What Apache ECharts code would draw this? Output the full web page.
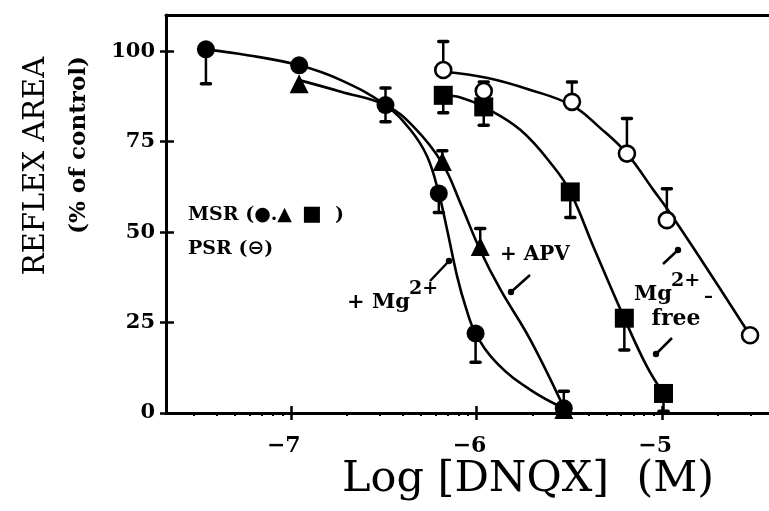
<!DOCTYPE html>
<html><head><meta charset="utf-8">
<script src="https://cdn.jsdelivr.net/npm/echarts@6/dist/echarts.min.js"></script>
<style>html,body{margin:0;padding:0;background:#fff}#c{width:769px;height:511px}</style>
</head><body><div id="c"></div>
<script>
// ---- data (x = log10 [DNQX] in M, y = reflex area % of control) ----
const xMajorTicks = [-7, -6, -5];
const xTickLabels = ['\u22127', '\u22126', '\u22125'];
const yTicks = [0, 25, 50, 75, 100];
const yTickLabels = ['0', '25', '50', '75', '100'];
const xMin = -7.672, xMax = -4.425, yMin = 0, yMax = 110;

// MSR + Mg2+ (filled circles)
const mgX  = [-7.457, -6.955, -6.49, -6.203, -6.005, -5.53];
const mgY  = [100.5, 96.1, 85.1, 60.7, 22, 1.3];
const mgLo = [91, 96.1, 80.5, 55.4, 14, 1.3];
const mgHi = [100.5, 96.1, 89.8, 60.7, 22, 1.3];
const mgCurveX = [-7.457, -7.233, -6.955, -6.73, -6.49, -6.355, -6.265, -6.203, -6.158, -6.104, -6.059, -6.005, -5.889, -5.71, -5.53];
const mgCurveY = [100.5, 98.9, 96.1, 92, 85.1, 78.2, 70.8, 60.7, 50.6, 37.7, 29.4, 22, 13.7, 6.4, 1.3];
// MSR + APV (triangles)
const apvX  = [-6.955, -6.184, -5.98, -5.53];
const apvY  = [91, 69.5, 46, 1];
const apvLo = [91, 69.5, 46, 1];
const apvHi = [91, 72.5, 51, 6];
const apvCurveX = [-6.955, -6.73, -6.49, -6.337, -6.184, -6.086, -5.98, -5.87, -5.71, -5.53];
const apvCurveY = [92, 88.8, 85.1, 79, 69, 57.9, 45, 34, 20.2, 1.5];
// MSR Mg2+-free (filled squares)
const sqX  = [-6.179, -5.961, -5.495, -5.204, -4.993];
const sqY  = [87.8, 84.6, 61.1, 26.2, 5.4];
const sqLo = [83, 79.5, 54, 17.4, 0.5];
const sqHi = [87.8, 84.6, 61.1, 26.2, 5.4];
const sqCurveX = [-6.179, -6.086, -5.961, -5.763, -5.584, -5.495, -5.37, -5.204, -5.082, -4.993];
const sqCurveY = [87.8, 87.2, 84.6, 78.2, 68, 61.1, 45.9, 26.2, 12.8, 5.4];
// PSR Mg2+-free (open circles)
const psrX  = [-6.179, -5.961, -5.486, -5.19, -4.975, -4.527];
const psrY  = [94.8, 89, 86, 71.7, 53.3, 21.5];
const psrLo = [94.8, 89, 86, 71.7, 53.3, 21.5];
const psrHi = [102.7, 91.5, 91.5, 81.4, 62, 21.5];
const psrCurveX = [-6.179, -5.94, -5.71, -5.486, -5.33, -5.19, -5.047, -4.957, -4.778, -4.527];
const psrCurveY = [94.3, 92.6, 89.3, 85, 78.6, 71.7, 61.6, 55.2, 41.4, 21.5];

// log-decade minor tick positions (2..9 x 10^n)
const minorTicks = [];
for (let n = -8; n <= -5; n++) for (let k = 2; k <= 9; k++) {
  const v = n + Math.log10(k); if (v > xMin && v < xMax) minorTicks.push(v);
}

const zip = (xs, ys) => xs.map((x, i) => [x, ys[i]]);
const errData = (xs, ys, lo, hi) => xs.map((x, i) => [x, lo[i], hi[i], ys[i]]);

const serif = 'DejaVu Serif';
const K = '#000';

function errRender(params, api) {
  const x = api.value(0), lo = api.value(1), hi = api.value(2), y = api.value(3);
  if (lo === hi) return null;
  const a = api.coord([x, lo]), b = api.coord([x, hi]);
  const ch = [{type: 'line', shape: {x1: a[0], y1: a[1], x2: b[0], y2: b[1]}, style: {stroke: K, lineWidth: 2.5}}];
  if (lo < y) ch.push({type: 'line', shape: {x1: a[0] - 4.5, y1: a[1], x2: a[0] + 4.5, y2: a[1]}, style: {stroke: K, lineWidth: 3.5, lineCap: 'round'}});
  if (hi > y) ch.push({type: 'line', shape: {x1: b[0] - 4.5, y1: b[1], x2: b[0] + 4.5, y2: b[1]}, style: {stroke: K, lineWidth: 3.5, lineCap: 'round'}});
  return {type: 'group', children: ch};
}
const errSeries = (d) => ({type: 'custom', renderItem: errRender, data: d, encode: {x: 0, y: [1, 2]}, z: 2, silent: true});
const curve = (d) => ({type: 'line', data: d, smooth: 0.4, showSymbol: false, symbol: 'none', lineStyle: {color: K, width: 2.6}, z: 3, silent: true});
const marks = (d, sym, size, open) => ({type: 'scatter', data: d, symbol: sym, symbolSize: size,
  itemStyle: open ? {color: '#fff', borderColor: K, borderWidth: 2.6, opacity: 1} : {color: K, opacity: 1}, z: 5, silent: true});

const baseX = {type: 'value', min: xMin, max: xMax, splitLine: {show: false}};
const baseY = {type: 'value', min: yMin, max: yMax, splitLine: {show: false}};
const txt = (x, y, text, font, align) => ({type: 'text', x: x, y: y, style: {text: text, fill: K, font: font, textAlign: align || 'left', textVerticalAlign: 'middle'}});

const option = {
  animation: false,
  grid: {left: 166, right: 0, top: 15, bottom: 98},
  xAxis: [
    Object.assign({}, baseX, {position: 'bottom',
      axisLine: {lineStyle: {color: K, width: 3}},
      axisTick: {customValues: xMajorTicks, length: 7, lineStyle: {color: K, width: 2.5}},
      axisLabel: {customValues: xMajorTicks, formatter: (v) => xTickLabels[xMajorTicks.indexOf(Math.round(v))] || '',
        margin: 22, padding: [0, 14, 0, 0], color: K, fontFamily: serif, fontWeight: 'bold', fontSize: 22}}),
    Object.assign({}, baseX, {position: 'bottom', axisLine: {show: false},
      axisTick: {customValues: xMajorTicks, inside: true, length: 7, lineStyle: {color: K, width: 2.5}}, axisLabel: {show: false}}),
    Object.assign({}, baseX, {position: 'bottom', axisLine: {show: false},
      axisTick: {customValues: minorTicks, length: 3, lineStyle: {color: K, width: 2}}, axisLabel: {show: false}}),
    Object.assign({}, baseX, {position: 'top', axisLine: {lineStyle: {color: K, width: 3}}, axisTick: {show: false}, axisLabel: {show: false}})
  ],
  yAxis: [
    Object.assign({}, baseY, {position: 'left',
      axisLine: {show: true, lineStyle: {color: K, width: 3}},
      axisTick: {show: true, customValues: yTicks, length: 6, lineStyle: {color: K, width: 2.5}},
      axisLabel: {customValues: yTicks, formatter: (v) => yTickLabels[yTicks.indexOf(Math.round(v))] || '',
        margin: 11, color: K, fontFamily: serif, fontWeight: 'bold', fontSize: 21}}),
    Object.assign({}, baseY, {position: 'left', axisLine: {show: false},
      axisTick: {show: true, customValues: yTicks, inside: true, length: 8, lineStyle: {color: K, width: 2.5}}, axisLabel: {show: false}})
  ],
  graphic: [
    {type: 'text', x: 36, y: 166, rotation: Math.PI / 2, style: {text: 'REFLEX AREA', fill: K, font: '29px "DejaVu Serif"', textAlign: 'center', textVerticalAlign: 'middle'}},
    {type: 'text', x: 79, y: 145, rotation: Math.PI / 2, style: {text: '(% of control)', fill: K, font: 'bold 23px "DejaVu Serif"', textAlign: 'center', textVerticalAlign: 'middle'}},
    txt(528, 480, 'Log [DNQX]  (M)', '43px "DejaVu Serif"', 'center'),
    {type: 'text', x: 188, y: 215, style: {
      text: '{t|MSR (}{s|\u25CF}{t|.}{s|\u25B2}   {q|\u25A0}{t|  )}', fill: K, textVerticalAlign: 'middle',
      rich: {t: {font: 'bold 19px "DejaVu Serif"', fill: K}, s: {font: '19px "DejaVu Sans"', fill: K}, q: {font: '21px "DejaVu Sans"', fill: K}}}},
    {type: 'text', x: 188, y: 249, style: {
      text: '{t|PSR (}{s|\u2296}{t|)}', fill: K, textVerticalAlign: 'middle',
      rich: {t: {font: 'bold 19px "DejaVu Serif"', fill: K}, s: {font: 'bold 20px "DejaVu Sans"', fill: K}}}},
    txt(347, 303, '+ Mg', 'bold 21px "DejaVu Serif"'),
    txt(409, 289, '2+', 'bold 19px "DejaVu Serif"'),
    txt(500, 255, '+ APV', 'bold 20px "DejaVu Serif"'),
    txt(634, 295, 'Mg', 'bold 21px "DejaVu Serif"'),
    txt(671, 281, '2+', 'bold 19px "DejaVu Serif"'),
    txt(704, 297, '\u2013', 'bold 18px "DejaVu Serif"'),
    txt(676, 319, 'free', 'bold 22px "DejaVu Serif"', 'center'),
    // pointer lines with dot heads
    {type: 'line', shape: {x1: 430, y1: 281, x2: 449, y2: 261}, style: {stroke: K, lineWidth: 2.5}},
    {type: 'circle', shape: {cx: 449, cy: 261, r: 3.2}, style: {fill: K}},
    {type: 'line', shape: {x1: 530, y1: 275, x2: 511, y2: 292}, style: {stroke: K, lineWidth: 2.5}},
    {type: 'circle', shape: {cx: 511, cy: 292, r: 3.2}, style: {fill: K}},
    {type: 'line', shape: {x1: 663, y1: 264, x2: 678, y2: 250}, style: {stroke: K, lineWidth: 2.5}},
    {type: 'circle', shape: {cx: 678, cy: 250, r: 3.2}, style: {fill: K}},
    {type: 'line', shape: {x1: 672, y1: 338, x2: 656, y2: 354}, style: {stroke: K, lineWidth: 2.5}},
    {type: 'circle', shape: {cx: 656, cy: 354, r: 3.2}, style: {fill: K}}
  ],
  series: [
    curve(zip(mgCurveX, mgCurveY)),
    curve(zip(apvCurveX, apvCurveY)),
    curve(zip(sqCurveX, sqCurveY)),
    curve(zip(psrCurveX, psrCurveY)),
    errSeries(errData(mgX, mgY, mgLo, mgHi)),
    errSeries(errData(apvX, apvY, apvLo, apvHi)),
    errSeries(errData(sqX, sqY, sqLo, sqHi)),
    errSeries(errData(psrX, psrY, psrLo, psrHi)),
    marks(zip(apvX, apvY), 'triangle', 19, false),
    marks(zip(mgX, mgY), 'circle', 18, false),
    marks(zip(sqX, sqY), 'rect', 19, false),
    marks(zip(psrX, psrY), 'circle', 16, true)
  ]
};
echarts.init(document.getElementById('c'), null, {renderer: 'canvas'}).setOption(option);
</script></body></html>
